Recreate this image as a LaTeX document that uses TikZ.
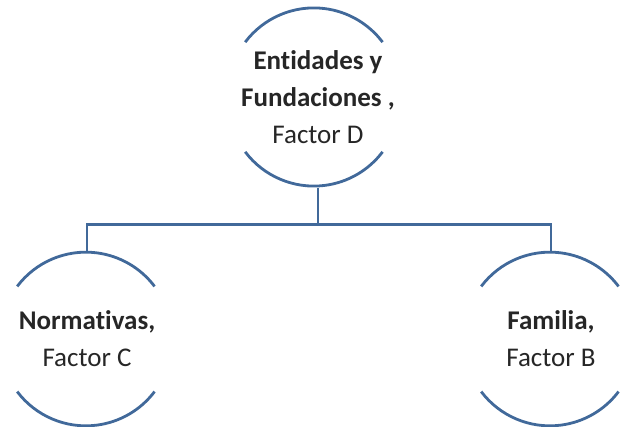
\documentclass[tikz,border=0pt]{standalone}
\usepackage{fontspec}
\setmainfont{Carlito}[Ligatures=NoCommon]

\begin{document}
\begin{tikzpicture}[x=1pt,y=1pt,line width=2.8pt]
    \definecolor{arcblue}{HTML}{41699A}
    \tikzstyle{factor}=[circle,minimum size=172pt,inner sep=0pt,align=center,text=black!85,font=\fontsize{27}{37}\selectfont]
    \tikzstyle{link}=[draw=arcblue]
    \useasboundingbox (0,0) rectangle (625,-427);

    \node[factor] (D) at (318,-97) {\textbf{Entidades y}\\ \textbf{Fundaciones ,}\\ Factor D};
    \node[factor] (C) at (87,-339) {\textbf{Normativas,}\\ Factor C};
    \node[factor] (B) at (551,-339) {\textbf{Familia,}\\ Factor B};

    \foreach \n in {D,C,B} {
        \draw[link] (\n.143) arc (143:37:86pt);
        \draw[link] (\n.-143) arc (-143:-37:86pt);
    }

    \draw[link] (D.south) -- ++(0,-36) coordinate (bus);
    \draw[link] (C.north) |- (bus) -| (B.north);
\end{tikzpicture}
\end{document}
